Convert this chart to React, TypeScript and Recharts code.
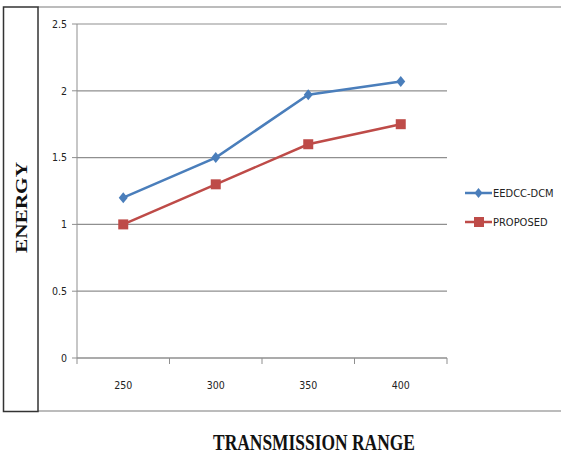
import React from 'react';
import { LineChart, Line, XAxis, YAxis, CartesianGrid, Legend } from 'recharts';

const categories = ['250', '300', '350', '400'];
const eedccValues = [1.2, 1.5, 1.97, 2.07];
const proposedValues = [1.0, 1.3, 1.6, 1.75];
const yTicks = [0, 0.5, 1, 1.5, 2, 2.5];

const BLUE = '#4A7EBB';
const RED = '#BE4B48';
const GRID = '#8F8F8F';
const TICK_FONT = '"Liberation Sans Narrow", "DejaVu Sans Condensed", "Liberation Sans", Arial, sans-serif';

const data = categories.map((c, i) => ({ range: c, eedcc: eedccValues[i], proposed: proposedValues[i] }));

const Diamond = (props: any) => {
  const { cx, cy } = props;
  if (cx == null || cy == null) return null;
  return <polygon points={`${cx},${cy - 5.5} ${cx + 4.5},${cy} ${cx},${cy + 5.5} ${cx - 4.5},${cy}`} fill={BLUE} />;
};

const Square = (props: any) => {
  const { cx, cy } = props;
  if (cx == null || cy == null) return null;
  return <rect x={cx - 5} y={cy - 5} width={10} height={10} fill={RED} />;
};

const XTick = (props: any) => {
  const { x, y, payload, index, visibleTicksCount, width } = props;
  const half = payload && payload.offset ? payload.offset : width / visibleTicksCount / 2;
  return (
    <g>
      <line x1={x - half} x2={x - half} y1={y} y2={y + 6} stroke={GRID} strokeWidth={1} />
      {index === visibleTicksCount - 1 && (
        <line x1={x + half} x2={x + half} y1={y} y2={y + 6} stroke={GRID} strokeWidth={1} />
      )}
      <text x={x} y={y + 31} textAnchor="middle" fontSize={10.5} fill="#222" fontFamily={TICK_FONT}>
        {payload.value}
      </text>
    </g>
  );
};

const LegendContent = () => {
  const items = [
    { label: 'EEDCC-DCM', color: BLUE, shape: 'diamond' },
    { label: 'PROPOSED', color: RED, shape: 'square' },
  ];
  return (
    <svg width={95} height={45} style={{ overflow: 'visible' }}>
      {items.map((it, i) => {
        const cy = 8 + i * 29;
        return (
          <g key={it.label}>
            <line x1={3} x2={30} y1={cy} y2={cy} stroke={it.color} strokeWidth={2.5} />
            {it.shape === 'diamond' ? (
              <polygon points={`16.5,${cy - 5} 20.5,${cy} 16.5,${cy + 5} 12.5,${cy}`} fill={it.color} />
            ) : (
              <rect x={12} y={cy - 5} width={10} height={10} fill={it.color} />
            )}
            <text x={31} y={cy + 4} fontSize={11} fill="#222" fontFamily={TICK_FONT}>
              {it.label}
            </text>
          </g>
        );
      })}
    </svg>
  );
};

export default function App() {
  return (
    <div style={{ position: 'absolute', left: 0, top: 0, width: 561, height: 454, background: '#fff' }}>
      <svg width={561} height={454} style={{ position: 'absolute', left: 0, top: 0 }}>
        <line x1={38} x2={561} y1={7} y2={7} stroke="#A6A6A6" strokeWidth={1.5} />
        <line x1={38} x2={561} y1={411} y2={411} stroke="#A6A6A6" strokeWidth={1.5} />
        <rect x={3.5} y={7} width={34.5} height={404.5} fill="none" stroke="#333" strokeWidth={1.5} />
        <text
          x={0}
          y={0}
          transform="translate(27,253) rotate(-90)"
          fontFamily='"Liberation Serif", "Times New Roman", serif'
          fontWeight="bold"
          fontSize={17}
          textLength={91}
          lengthAdjust="spacingAndGlyphs"
          fill="#111"
        >
          ENERGY
        </text>
        <text
          x={213}
          y={450}
          fontFamily='"Liberation Serif", "Times New Roman", serif'
          fontWeight="bold"
          fontSize={23}
          textLength={202}
          lengthAdjust="spacingAndGlyphs"
          fill="#111"
        >
          TRANSMISSION RANGE
        </text>
      </svg>
      <div style={{ position: 'absolute', left: 0, top: 0 }}>
        <LineChart width={561} height={454} data={data} margin={{ top: 24, right: 114, bottom: 0, left: 38 }}>
          <CartesianGrid vertical={false} stroke={GRID} strokeWidth={1.2} />
          <XAxis
            dataKey="range"
            scale="band"
            axisLine={{ stroke: GRID }}
            tickLine={false}
            tickSize={0}
            tickMargin={0}
            tick={<XTick />}
            interval={0}
            height={96}
          />
          <YAxis
            width={39}
            domain={[0, 2.5]}
            ticks={yTicks}
            axisLine={{ stroke: GRID }}
            tickLine={{ stroke: GRID }}
            tickSize={5}
            tickMargin={5}
            tick={{ fontSize: 10.5, fill: '#222', fontFamily: TICK_FONT }}
          />
          <Legend
            layout="horizontal"
            align="center"
            verticalAlign="middle"
            content={<LegendContent />}
            wrapperStyle={{ position: 'absolute', left: 462, top: 185, width: 95, height: 45 }}
          />
          <Line
            type="linear"
            dataKey="eedcc"
            name="EEDCC-DCM"
            stroke={BLUE}
            strokeWidth={2.5}
            dot={<Diamond />}
            activeDot={false}
            isAnimationActive={false}
          />
          <Line
            type="linear"
            dataKey="proposed"
            name="PROPOSED"
            stroke={RED}
            strokeWidth={2.5}
            dot={<Square />}
            activeDot={false}
            isAnimationActive={false}
          />
        </LineChart>
      </div>
    </div>
  );
}
